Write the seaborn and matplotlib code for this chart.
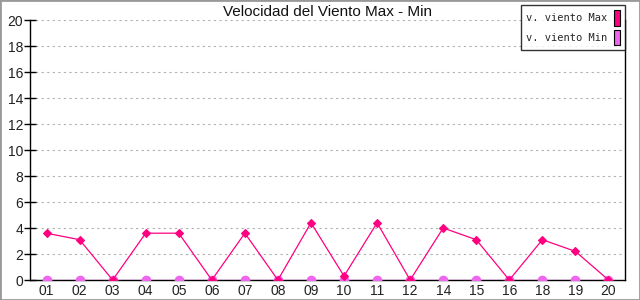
import matplotlib
matplotlib.use("Agg")
import matplotlib.pyplot as plt
import seaborn as sns
import pandas as pd
from matplotlib.patches import Patch

dias = ["01", "02", "03", "04", "05", "06", "07", "08", "09", "10",
        "11", "12", "14", "15", "16", "18", "19", "20"]
viento_max = [3.6, 3.1, 0, 3.6, 3.6, 0, 3.6, 0, 4.4, 0.3,
              4.4, 0, 4.0, 3.1, 0, 3.1, 2.2, 0]
viento_min = [0] * len(dias)
y_ticks = list(range(0, 21, 2))

col_max = "#ff0080"
col_min = "#ee66ee"

sns.set_style("white")
plt.rcParams['font.family'] = ['Liberation Sans', 'DejaVu Sans']

df = pd.DataFrame({"dia": dias, "max": viento_max, "min": viento_min})

fig = plt.figure(figsize=(6.4, 3.0), dpi=100)
ax = fig.add_axes([30/640, 20/300, 595/640, 260/300])

sns.lineplot(data=df, x="dia", y="min", ax=ax, color=col_min, lw=1,
             marker="o", markersize=7, markeredgewidth=0, sort=False, zorder=3)
sns.lineplot(data=df, x="dia", y="max", ax=ax, color=col_max, lw=0.9,
             marker="D", markersize=4.2, markeredgewidth=0.8, markeredgecolor=col_max,
             sort=False, zorder=4)

ax.set_xlim(-0.5, len(dias) - 0.5)
ax.set_ylim(0, 20)
ax.set_yticks(y_ticks)
ax.set_xlabel("")
ax.set_ylabel("")
ax.yaxis.grid(True, linestyle=(0, (2, 3)), color="#b0b0b0", lw=0.8)
ax.set_axisbelow(True)
for s in ["left", "bottom", "right"]:
    ax.spines[s].set_color("black")
    ax.spines[s].set_linewidth(1)
ax.spines["top"].set_visible(False)
ax.tick_params(axis="y", direction="inout", length=8, width=1, left=True,
               labelsize=10, pad=1, colors="black")
ax.tick_params(axis="x", length=0, labelsize=10, pad=3)
for t in ax.get_yticklabels() + ax.get_xticklabels():
    t.set_color("#222222")

ax.set_title("Velocidad del Viento Max - Min", fontsize=11, pad=3, color="#111111")

handles = [Patch(facecolor=col_max, edgecolor="black", lw=0.8),
           Patch(facecolor=col_min, edgecolor="black", lw=0.8)]
leg = ax.legend(handles, ["v. viento Max", "v. viento Min"], loc="upper right",
                bbox_to_anchor=(1.0, 1.0 + 15/260), markerfirst=False,
                prop={"family": "DejaVu Sans Mono", "size": 7.5},
                frameon=True, fancybox=False, edgecolor="black",
                handlelength=0.6, handleheight=1.9, handletextpad=0.6,
                borderpad=0.5, labelspacing=0.4, borderaxespad=0)
leg.get_frame().set_linewidth(1)
leg.set_zorder(10)

fig.patches.append(plt.Rectangle((0, 0), 1, 1, transform=fig.transFigure,
                                 fill=False, edgecolor="#999999", lw=2))
fig.savefig("out.png", dpi=100)
